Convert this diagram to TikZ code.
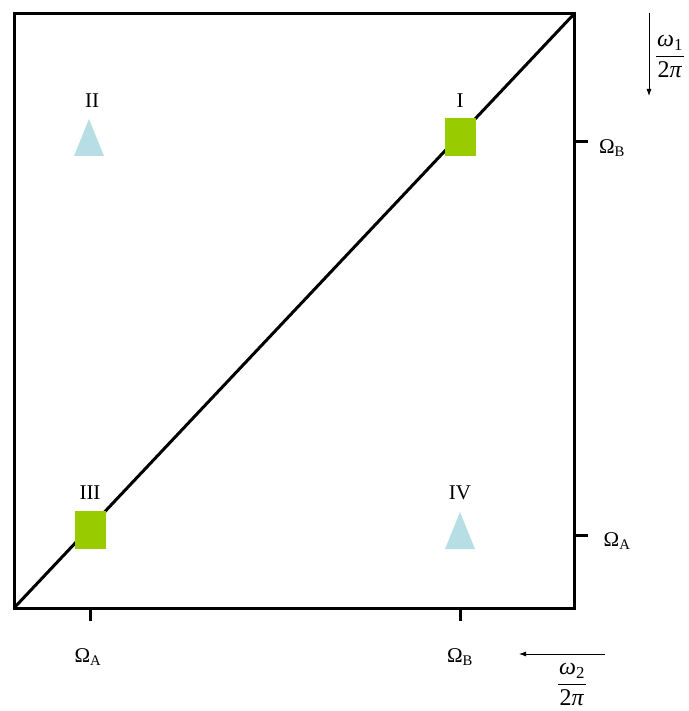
\documentclass[tikz,border=0pt]{standalone}
\usepackage{fontspec}
\setmainfont{Liberation Serif}
\usetikzlibrary{arrows.meta}
\definecolor{sqgreen}{RGB}{153,204,0}
\definecolor{triblue}{RGB}{183,222,228}

\tikzset{
  frame/.style={line width=3pt},
  tickmark/.style={line width=3pt},
  lbl/.style={font=\fontsize{21}{25}\selectfont, inner sep=1pt},
  fraclbl/.style={font=\fontsize{24}{28}\selectfont, inner sep=1pt},
  sqmark/.style={fill=sqgreen, minimum width=31pt, minimum height=38pt, inner sep=0pt},
  dirarrow/.style={line width=0.8pt, -{Latex[length=7pt,width=5pt]}}
}
\newcommand{\trimark}[1]{\fill[triblue] (#1) ++(-15,18.5) -- ++(15,-37) -- ++(15,37) -- cycle;}
\newcommand{\freqfrac}[1]{\setlength{\tabcolsep}{1pt}\renewcommand{\arraystretch}{1.05}%
  \begin{tabular}{c}\textit{ω}\textsubscript{#1}\\[1pt]\hline 2\textit{π}\end{tabular}}

\begin{document}
\begin{tikzpicture}[x=1pt,y=-1pt]
\useasboundingbox (0,0) rectangle (688,711);
% ---------- frame and diagonal ----------
\coordinate (tl) at (14,14);
\coordinate (br) at (574,608);
\coordinate (bl) at (14,608);
\coordinate (tr) at (574,14);
\draw[frame] (tl) rectangle (br);
\draw[frame] (bl) -- (tr);
% ---------- ticks ----------
\coordinate (xa) at (90,608);
\coordinate (xb) at (460,608);
\coordinate (yb) at (574,142);
\coordinate (ya) at (574,535);
\draw[tickmark] (xa) -- ++(0,13);
\draw[tickmark] (xb) -- ++(0,13);
\draw[tickmark] (yb) -- ++(14,0);
\draw[tickmark] (ya) -- ++(14,0);
\node[lbl] (xalbl) at (88,657) {Ω\textsubscript{A}};
\node[lbl] (xblbl) at (460,657) {Ω\textsubscript{B}};
\node[lbl] (yblbl) at (612,148) {Ω\textsubscript{B}};
\node[lbl] (yalbl) at (617,541) {Ω\textsubscript{A}};
% ---------- points ----------
\node[sqmark] (p1) at (460,137) {};
\node[sqmark] (p3) at (90,530) {};
\coordinate (p2) at (89,137.5);
\coordinate (p4) at (460,530.5);
\trimark{p2}
\trimark{p4}
\node[lbl] at (460,101) {I};
\node[lbl] at (92,101) {II};
\node[lbl] at (90,493) {III};
\node[lbl] at (460,493) {IV};
% ---------- frequency directions ----------
\coordinate (w1s) at (649,13);
\coordinate (w1e) at (649,96);
\draw[dirarrow] (w1s) -- (w1e);
\node[fraclbl] (w1) at (670,56) {\freqfrac{1}};
\coordinate (w2s) at (605,654);
\coordinate (w2e) at (519,654);
\draw[dirarrow] (w2s) -- (w2e);
\node[fraclbl] (w2) at (572,684) {\freqfrac{2}};
\end{tikzpicture}
\end{document}
